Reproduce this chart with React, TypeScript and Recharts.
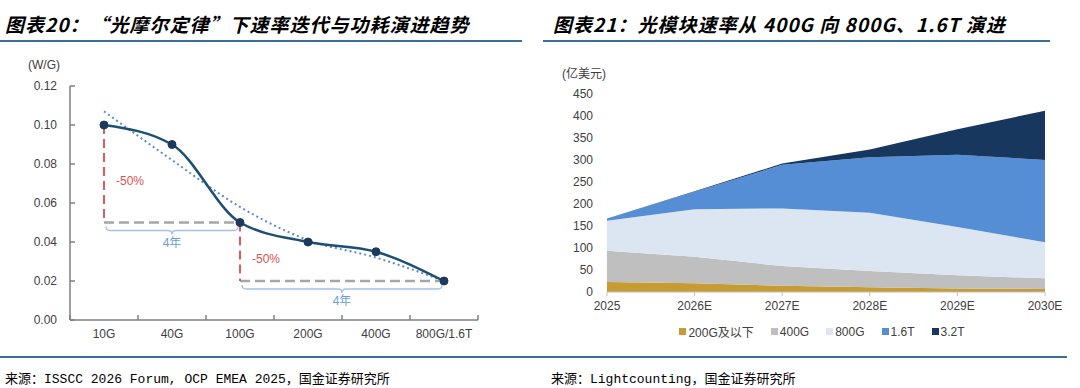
import { LineChart, Line, XAxis, YAxis, ReferenceLine, AreaChart, Area } from "recharts";

document.body.style.margin = "0";

// 图表20 data
const RATES = ["10G", "40G", "100G", "200G", "400G", "800G/1.6T"];
const POWER = [0.1, 0.09, 0.05, 0.04, 0.035, 0.02];
const TREND = [0.107, 0.082, 0.058, 0.041, 0.032, 0.02];
const POWER_TICKS = [0, 0.02, 0.04, 0.06, 0.08, 0.1, 0.12];
const BAND_TICKS = [0, 1, 2, 3, 4, 5, 6];

// 图表21 data (亿美元)
const YEARS = ["2025", "2026E", "2027E", "2028E", "2029E", "2030E"];
const S200 = [23, 20, 14, 11, 8, 7];
const S400 = [71, 60, 45, 37, 30, 24];
const S800 = [68, 108, 131, 132, 110, 82];
const S1600 = [5, 40, 99, 126, 164, 187];
const S3200 = [0, 1, 3, 18, 58, 112];
const MARKET_TICKS = [0, 50, 100, 150, 200, 250, 300, 350, 400, 450];

const SERIES = [
  { key: "s200", name: "200G及以下", color: "#c59b32", values: S200 },
  { key: "s400", name: "400G", color: "#bfbfbf", values: S400 },
  { key: "s800", name: "800G", color: "#dce6f2", values: S800 },
  { key: "s1600", name: "1.6T", color: "#558ed5", values: S1600 },
  { key: "s3200", name: "3.2T", color: "#17375e", values: S3200 },
];

const powerData = RATES.map((r, i) => ({ pos: i + 0.5, rate: r, v: POWER[i], t: TREND[i] }));

const marketData = YEARS.map((y, i) => {
  const row: any = { year: y };
  SERIES.forEach((s) => (row[s.key] = s.values[i]));
  return row;
});

const TICK = { fontSize: 12, fill: "#404040" };
const RULE = "#3b6e99";

// red dashed drop with "-50%" label
const Drop = (p: any) => (
  <g>
    <line x1={p.x1} y1={p.y1} x2={p.x2} y2={p.y2} stroke="#e05a5c" strokeWidth={2} strokeDasharray="9 5" />
    <text x={p.x1 + 12} y={(p.y1 + p.y2) / 2 + 11} fontSize={12} fill="#e05050">
      -50%
    </text>
  </g>
);

// curly brace under a gray dashed span
const Brace = (p: any) => {
  const x1 = Math.min(p.x1, p.x2) + 2;
  const x2 = Math.max(p.x1, p.x2) - 2;
  const y = p.y1 + 4;
  const h = 4;
  const r = 4;
  const xm = (x1 + x2) / 2;
  const d =
    `M${x1},${y} q0,${h} ${r},${h} L${xm - r},${y + h} q${r},0 ${r},${h} ` +
    `q0,-${h} ${r},-${h} L${x2 - r},${y + h} q${r},0 ${r},-${h}`;
  return (
    <g>
      <path d={d} fill="none" stroke="#a3c1ea" strokeWidth={1.3} />
      <text x={xm} y={y + h * 2 + 12} textAnchor="middle" fontSize={12} fill="#6b9ce0">
        4年
      </text>
    </g>
  );
};

function PowerChart() {
  return (
    <LineChart width={540} height={388} data={powerData} margin={{ top: 86, right: 62, left: 30, bottom: 66 }}>
      <XAxis
        xAxisId={0}
        dataKey="pos"
        type="number"
        domain={[0, 6]}
        ticks={BAND_TICKS}
        height={1}
        tickSize={-5}
        tickFormatter={() => ""}
        stroke="#7f7f7f"
        strokeWidth={1.5}
      />
      <XAxis
        xAxisId="lab"
        dataKey="pos"
        type="number"
        domain={[0, 6]}
        ticks={powerData.map((d) => d.pos)}
        tickFormatter={(v: number) => RATES[Math.floor(v)]}
        interval={0}
        height={1}
        axisLine={false}
        tickLine={false}
        tickSize={0}
        tickMargin={8}
        tick={TICK}
      />
      <YAxis
        domain={[0, 0.12]}
        ticks={POWER_TICKS}
        tickFormatter={(v: number) => v.toFixed(2)}
        width={40}
        tickSize={-5}
        tickMargin={18}
        stroke="#7f7f7f"
        strokeWidth={1.5}
        tick={TICK}
      />
      <ReferenceLine segment={[{ x: 0.5, y: 0.05 }, { x: 2.5, y: 0.05 }]} stroke="#a6a6a6" strokeWidth={2.5} strokeDasharray="10 5" />
      <ReferenceLine segment={[{ x: 2.5, y: 0.02 }, { x: 5.5, y: 0.02 }]} stroke="#a6a6a6" strokeWidth={2.5} strokeDasharray="10 5" />
      <ReferenceLine segment={[{ x: 0.5, y: 0.1 }, { x: 0.5, y: 0.05 }]} shape={Drop} />
      <ReferenceLine segment={[{ x: 2.5, y: 0.05 }, { x: 2.5, y: 0.02 }]} shape={Drop} />
      <ReferenceLine segment={[{ x: 0.5, y: 0.05 }, { x: 2.5, y: 0.05 }]} shape={Brace} />
      <ReferenceLine segment={[{ x: 2.5, y: 0.02 }, { x: 5.5, y: 0.02 }]} shape={Brace} />
      <Line
        dataKey="t"
        type="monotone"
        stroke="#5b8ad6"
        strokeWidth={2}
        strokeDasharray="2 3"
        dot={false}
        isAnimationActive={false}
      />
      <Line
        dataKey="v"
        type="monotone"
        stroke="#1d4f73"
        strokeWidth={2.5}
        dot={{ r: 4, fill: "#1b3a5c", stroke: "#1b3a5c", strokeWidth: 1 }}
        isAnimationActive={false}
      />
    </LineChart>
  );
}

function MarketChart() {
  return (
    <AreaChart width={540} height={388} data={marketData} margin={{ top: 94, right: 35, left: 17, bottom: 66 }}>
      <XAxis dataKey="year" height={30} tickSize={4} tickMargin={5} stroke="#bfbfbf" tick={TICK} />
      <YAxis domain={[0, 450]} ticks={MARKET_TICKS} width={50} axisLine={false} tickLine={false} tickSize={0} tickMargin={14} tick={TICK} />
      {SERIES.map((s) => (
        <Area
          key={s.key}
          dataKey={s.key}
          name={s.name}
          stackId="1"
          type="linear"
          stroke="none"
          fill={s.color}
          fillOpacity={1}
          isAnimationActive={false}
        />
      ))}
    </AreaChart>
  );
}

const titleStyle: React.CSSProperties = {
  position: "absolute",
  top: 10,
  fontFamily: "'Noto Sans CJK SC', sans-serif",
  fontSize: 19,
  fontWeight: 700,
  fontStyle: "italic",
  letterSpacing: 1,
  color: "#000",
  whiteSpace: "nowrap",
};

const sourceStyle: React.CSSProperties = {
  position: "absolute",
  top: 368,
  fontFamily: "'Liberation Mono', 'Noto Sans CJK SC', monospace",
  fontSize: 13,
  color: "#000",
  whiteSpace: "nowrap",
};

export default function App() {
  return (
    <div
      style={{
        position: "relative",
        width: 1080,
        height: 388,
        background: "#fff",
        overflow: "hidden",
        fontFamily: "'Liberation Sans', Arial, 'Noto Sans CJK SC', sans-serif",
      }}
    >
      <div style={{ ...titleStyle, left: 5 }}>图表20：“光摩尔定律”下速率迭代与功耗演进趋势</div>
      <div style={{ ...titleStyle, left: 553 }}>图表21：光模块速率从 400G 向 800G、1.6T 演进</div>
      <div style={{ position: "absolute", left: 0, top: 40, width: 522, height: 1.5, background: RULE }} />
      <div style={{ position: "absolute", left: 543, top: 40, width: 507, height: 1.5, background: RULE }} />

      <div style={{ position: "absolute", left: 0, top: 0 }}>
        <PowerChart />
      </div>
      <div style={{ position: "absolute", left: 28, top: 58, fontSize: 12, color: "#404040" }}>(W/G)</div>

      <div style={{ position: "absolute", left: 540, top: 0 }}>
        <MarketChart />
      </div>
      <div style={{ position: "absolute", left: 562, top: 64, fontSize: 12, color: "#404040" }}>(亿美元)</div>
      <div
        style={{
          position: "absolute",
          left: 603,
          top: 323,
          width: 438,
          display: "flex",
          justifyContent: "center",
          gap: 17,
          fontSize: 12,
          color: "#404040",
        }}
      >
        {SERIES.map((s) => (
          <div key={s.key} style={{ display: "flex", alignItems: "center", gap: 2 }}>
            <span style={{ width: 7, height: 7, background: s.color, display: "inline-block" }} />
            <span>{s.name}</span>
          </div>
        ))}
      </div>

      <div style={{ position: "absolute", left: 0, top: 356, width: 1067, height: 1.5, background: RULE }} />
      <div style={{ ...sourceStyle, left: 5 }}>来源：ISSCC 2026 Forum, OCP EMEA 2025，国金证券研究所</div>
      <div style={{ ...sourceStyle, left: 551 }}>来源：Lightcounting，国金证券研究所</div>
    </div>
  );
}
